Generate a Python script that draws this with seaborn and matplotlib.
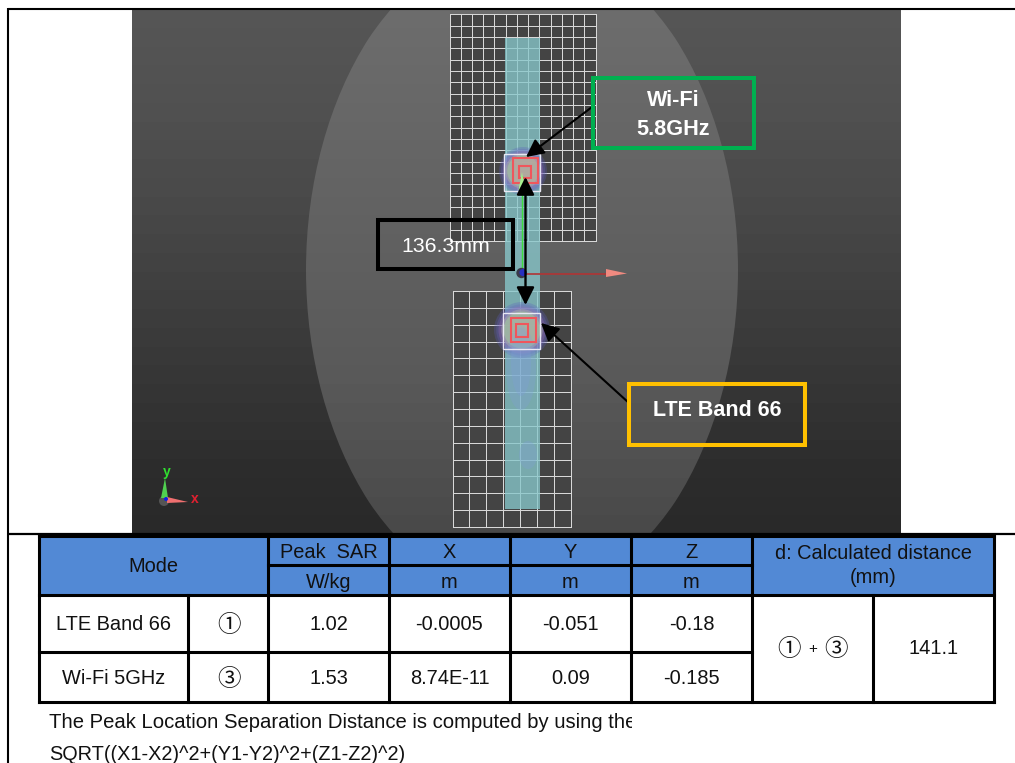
#!/usr/bin/env python3
# -*- coding: utf-8 -*-
import numpy as np
import matplotlib
matplotlib.use("Agg")
import matplotlib.pyplot as plt
import seaborn as sns
from matplotlib.colors import ListedColormap
from matplotlib.patches import Rectangle, Ellipse, Circle, Polygon

W, H = 1015, 763

# table content
header_mode = "Mode"
header_top = ["Peak  SAR", "X", "Y", "Z"]
header_units = ["W/kg", "m", "m", "m"]
header_dist = "d: Calculated distance\n(mm)"
row_modes = ["LTE Band 66", "Wi-Fi 5GHz"]
row_marks = ["①", "③"]
peak_sar = ["1.02", "1.53"]
peak_x = ["-0.0005", "8.74E-11"]
peak_y = ["-0.051", "0.09"]
peak_z = ["-0.18", "-0.185"]
pair_sign = "+"
distance_mm = "141.1"
note_lines = ["The Peak Location Separation Distance is computed by using the",
              "SQRT((X1-X2)^2+(Y1-Y2)^2+(Z1-Z2)^2)"]

# callouts
label_wifi = "Wi-Fi\n5.8GHz"
label_lte = "LTE Band 66"
label_sep = "136.3mm"

# backdrop grey levels, top to bottom of the picture
bg_levels = [85, 84, 83, 82, 81, 80, 78, 77, 75, 74, 72, 70, 68, 66, 64, 62, 60, 58,
             56, 54, 52, 50, 48, 46, 44, 43, 42, 41]
phantom_levels = [108, 107, 106, 105, 104, 103, 102, 101, 100, 99, 98, 97, 96, 95, 94,
                  93, 92, 91, 90, 89, 87, 85, 83, 81, 79, 77, 75, 73]

# measurement grids (rows, cols)
top_grid = (20, 13)
bottom_grid = (14, 7)

sns.set_theme(style="white")
plt.rcParams['font.family'] = ['Liberation Sans', 'Noto Sans CJK SC', 'DejaVu Sans']

fig = plt.figure(figsize=(W / 100, H / 100), dpi=100, facecolor="white")


def px_axes(x0, y0, x1, y1, zorder):
    a = fig.add_axes([x0 / W, 1 - y1 / H, (x1 - x0) / W, (y1 - y0) / H], zorder=zorder)
    a.set_axis_off()
    return a


# main overlay in pixel coordinates
ax = fig.add_axes([0, 0, 1, 1], zorder=5)
ax.set_xlim(0, W)
ax.set_ylim(H, 0)
ax.set_axis_off()
ax.patch.set_alpha(0)

# backdrop and phantom, drawn as one column heatmaps
bg_ax = px_axes(132, 9, 901, 534, 1)
grey_cmap = sns.color_palette("gray", as_cmap=True)
sns.heatmap(np.array(bg_levels)[:, None], ax=bg_ax, cmap=grey_cmap, vmin=0, vmax=255,
            cbar=False, xticklabels=False, yticklabels=False)
sns.heatmap(np.array(phantom_levels)[:, None], ax=bg_ax, cmap=grey_cmap, vmin=0, vmax=255,
            cbar=False, xticklabels=False, yticklabels=False)
phantom = Ellipse((522, 270), 432, 656, transform=ax.transData)
bg_ax.collections[-1].set_clip_path(phantom)
bg_ax.set_axis_off()


def draw_grid(shape, box, zorder):
    g_ax = px_axes(*box, zorder)
    sns.heatmap(np.zeros(shape), ax=g_ax, cmap=ListedColormap(["#444444"]), cbar=False,
                linewidths=0.55, linecolor="#d8d8d8", xticklabels=False, yticklabels=False,
                clip_on=False)
    g_ax.set_axis_off()


draw_grid(top_grid, (449.5, 14.5, 595.5, 241), 2)
draw_grid(bottom_grid, (452.5, 291, 571, 527), 2)

# teal strip
ax.add_patch(Rectangle((505, 38), 35, 471, facecolor="#88C8CC", alpha=0.78, lw=0, zorder=1))


def hot_spot(cx, cy, r):
    # halo around the peak, built from stacked translucent ellipses
    for scale, col, alpha in ((1.0, "#5a5cc0", 0.28), (0.92, "#6a60c0", 0.28), (0.84, "#a070b8", 0.3),
                              (0.74, "#a8a8a8", 0.55), (0.66, "#a0bca0", 0.75)):
        ax.add_patch(Ellipse((cx, cy), r * 2 * scale, r * 2 * scale, facecolor=col, alpha=alpha, lw=0, zorder=2))


hot_spot(523, 171, 24)
hot_spot(522, 330, 28)
for cx, cy, rx, ry, alpha in ((521, 368, 15, 42, 0.3), (521, 362, 10, 34, 0.3), (528, 455, 9, 14, 0.3)):
    ax.add_patch(Ellipse((cx, cy), rx * 2, ry * 2, facecolor="#7f9fd8", alpha=alpha, lw=0, zorder=2))
# pink ring just inside the red squares
ax.add_patch(Rectangle((513, 158), 25, 25, facecolor="#d89898", alpha=0.35, lw=0, zorder=2))
ax.add_patch(Rectangle((511, 318), 25, 24, facecolor="#c8a8a0", alpha=0.2, lw=0, zorder=2))


def squares(white, red_a, red_b):
    ax.add_patch(Rectangle(white[:2], white[2], white[3], fill=False, ec="#e8e8f4", lw=1.0, zorder=3))
    for r in (red_a, red_b):
        ax.add_patch(Rectangle(r[:2], r[2], r[3], fill=False, ec="#f0565c", lw=1.5, zorder=3))


squares((504, 154, 36.5, 37), (513, 158, 25, 25), (519, 166, 12, 12))
squares((503, 313, 37, 36), (511, 318, 25, 24), (516, 324, 12, 13))

# coordinate axes at the origin
ax.plot([522, 522], [273, 176], color="#3ddc3d", lw=1.0, zorder=4)
ax.add_patch(Polygon([(518.5, 190), (525, 190), (522, 172)], facecolor="#a8f090", lw=0, zorder=4))
ax.plot([524, 606], [273.5, 273.5], color="#b03434", lw=1.2, zorder=4)
ax.add_patch(Polygon([(606, 269), (627, 273.5), (606, 277)], facecolor="#f08a80", lw=0, zorder=4))
ax.add_patch(Circle((521.5, 273), 5.2, facecolor="#3a3a4a", lw=0, zorder=4))
ax.add_patch(Circle((523, 272.5), 3.6, facecolor="#2830c0", lw=0, zorder=4))

# triad in the corner
ax.add_patch(Circle((164, 501), 5, facecolor="#555555", lw=0, zorder=4))
ax.add_patch(Polygon([(161, 498), (168, 498), (165, 478)], facecolor="#50d050", lw=0, zorder=4))
ax.add_patch(Polygon([(167, 497), (167, 503), (188, 502)], facecolor="#f07070", lw=0, zorder=4))
ax.add_patch(Circle((166, 499), 2, facecolor="#1020e0", lw=0, zorder=4))
ax.text(166.5, 472, "y", color="#30e030", fontsize=10, fontweight="bold", ha="center", va="center", zorder=4)
ax.text(195, 499, "x", color="#e02030", fontsize=10, fontweight="bold", ha="center", va="center", zorder=4)


def arrow(start, end, lw=1.5, head=(15, 7.5)):
    ax.annotate("", xy=end, xytext=start, zorder=6,
                arrowprops=dict(arrowstyle="-|>,head_length=%.2f,head_width=%.2f" % (head[0] / 10, head[1] / 10),
                                color="black", lw=lw, shrinkA=0, shrinkB=0, mutation_scale=10 * 0.72))


arrow((525.5, 240), (525.5, 177), lw=1.7)
arrow((525.5, 240), (525.5, 305), lw=1.7)
arrow((592, 107), (526, 157))
arrow((629, 403), (541, 323))

# callout boxes
for box, col in (((593, 78, 161, 70), "#00B050"), ((378, 220, 135, 49), "black"), ((629, 384, 176, 61), "#FFC000")):
    ax.add_patch(Rectangle(box[:2], box[2], box[3], fill=False, ec=col, lw=2.9, zorder=6))
ax.text(673, 115, label_wifi, color="white", fontsize=15.6, fontweight="bold", ha="center", va="center",
        linespacing=1.5, zorder=6)
ax.text(446, 246.5, label_sep, color="white", fontsize=15.3, ha="center", va="center", zorder=6)
ax.text(717, 410.5, label_lte, color="white", fontsize=15.5, fontweight="bold", ha="center", va="center", zorder=6)

# page rules
ax.plot([8, 8], [8, H], color="black", lw=1.5, zorder=7, solid_capstyle="butt")
ax.plot([8, W], [8.5, 8.5], color="black", lw=1.5, zorder=7, solid_capstyle="butt")
ax.plot([8, W], [534, 534], color="black", lw=1.6, zorder=7, solid_capstyle="butt")

# table
xs = [39.5, 188.5, 268, 389, 510, 631, 752, 873, 994]
ys = [536, 565, 594.5, 651.5, 702]
blue = "#5289D5"
ax.add_patch(Rectangle((xs[0], ys[0]), xs[-1] - xs[0], ys[2] - ys[0], facecolor=blue, lw=0, zorder=8))
ax.add_patch(Rectangle((xs[0], ys[2]), xs[-1] - xs[0], ys[4] - ys[2], facecolor="white", lw=0, zorder=8))


def rule(x0, y0, x1, y1):
    ax.plot([x0, x1], [y0, y1], color="black", lw=2.2, zorder=9, solid_capstyle="projecting")


rule(xs[0], ys[0], xs[-1], ys[0])
rule(xs[2], ys[1], xs[6], ys[1])
rule(xs[0], ys[2], xs[-1], ys[2])
rule(xs[0], ys[3], xs[6], ys[3])
rule(xs[0], ys[4], xs[-1], ys[4])
rule(xs[0], ys[0], xs[0], ys[4])
rule(xs[1], ys[2], xs[1], ys[4])
for i in range(2, 7):
    rule(xs[i], ys[0], xs[i], ys[4])
rule(xs[7], ys[2], xs[7], ys[4])
rule(xs[8], ys[0], xs[8], ys[4])

fs = 14.4
txt = dict(ha="center", va="center", fontsize=fs, color="#111111", zorder=10)
ax.text((xs[0] + xs[2]) / 2, 566, header_mode, **txt)
for i in range(4):
    ax.text((xs[i + 2] + xs[i + 3]) / 2, 552, header_top[i], **txt)
    ax.text((xs[i + 2] + xs[i + 3]) / 2, 582, header_units[i], **txt)
ax.text((xs[6] + xs[8]) / 2, 565.5, header_dist, linespacing=1.35, **txt)
for c, col in enumerate([row_modes, None, peak_sar, peak_x, peak_y, peak_z]):
    if col is None:
        continue
    cx = (xs[c] + xs[c + 1]) / 2
    for r, val in enumerate(col):
        ax.text(cx, 625 if r == 0 else 679, val, **txt)

mark = dict(txt, fontsize=17)
for y, val in zip((625.5, 679.5), row_marks):
    ax.text(229, y, val, **mark)
ax.text(789, 649.5, row_marks[0], **mark)
ax.text(813, 649, pair_sign, **dict(txt, fontsize=11))
ax.text(836, 649.5, row_marks[1], **mark)
ax.text((xs[7] + xs[8]) / 2, 648.5, distance_mm, **txt)

for y, line, size in zip((722.5, 754), note_lines, (14.55, 14.35)):
    t = ax.text(49.5, y, line, ha="left", va="center", fontsize=size, color="#111111", zorder=10, clip_on=True)
    t.set_clip_path(Rectangle((40, 705), 592, 58, transform=ax.transData))

fig.savefig("out.png", dpi=100)
